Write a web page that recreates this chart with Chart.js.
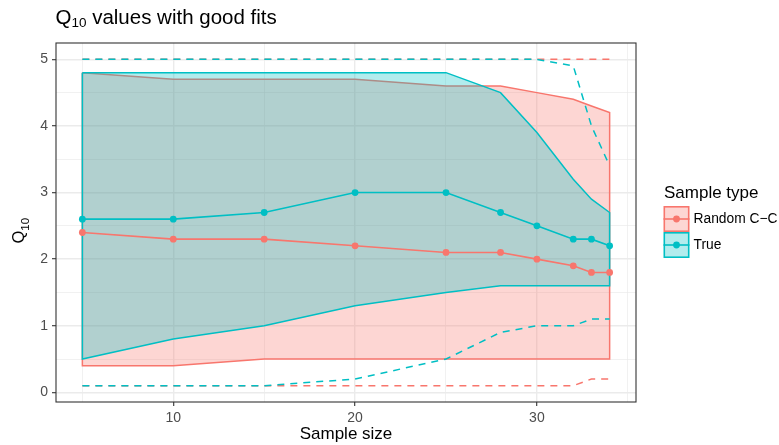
<!DOCTYPE html>
<html>
<head>
<meta charset="utf-8">
<script src="https://cdn.jsdelivr.net/npm/chart.js@4.4.1/dist/chart.umd.min.js"></script>
<style>
  html, body { margin: 0; padding: 0; background: #ffffff; }
</style>
</head>
<body>
<canvas id="q10Chart" width="779" height="445"></canvas>
<script>
// sample sizes along the x axis
const sampleSizes = [5, 10, 15, 20, 25, 28, 30, 32, 33, 34];

// Random C-C
const randomMedian = [2.4, 2.3, 2.3, 2.2, 2.1, 2.1, 2.0, 1.9, 1.8, 1.8];
const randomLower  = [0.4, 0.4, 0.5, 0.5, 0.5, 0.5, 0.5, 0.5, 0.5, 0.5];
const randomUpper  = [4.8, 4.7, 4.7, 4.7, 4.6, 4.6, 4.5, 4.4, 4.3, 4.2];
const randomMin    = [0.1, 0.1, 0.1, 0.1, 0.1, 0.1, 0.1, 0.1, 0.2, 0.2];
const randomMax    = [5.0, 5.0, 5.0, 5.0, 5.0, 5.0, 5.0, 5.0, 5.0, 5.0];

// True
const trueMedian = [2.6, 2.6, 2.7, 3.0, 3.0, 2.7, 2.5, 2.3, 2.3, 2.2];
const trueLower  = [0.5, 0.8, 1.0, 1.3, 1.5, 1.6, 1.6, 1.6, 1.6, 1.6];
const trueUpper  = [4.8, 4.8, 4.8, 4.8, 4.8, 4.5, 3.9, 3.2, 2.9, 2.7];
const trueMin    = [0.1, 0.1, 0.1, 0.2, 0.5, 0.9, 1.0, 1.0, 1.1, 1.1];
const trueMax    = [5.0, 5.0, 5.0, 5.0, 5.0, 5.0, 5.0, 4.9, 4.0, 3.4];

const seriesNames = ['Random C\u2212C', 'True'];
const seriesColors = ['#F8766D', '#00BFC4'];
const seriesFills = ['rgba(248,118,109,0.3)', 'rgba(0,191,196,0.3)'];

// axis ticks
const xMajorTicks = [10, 20, 30];
const xMinorTicks = [5, 15, 25, 35];
const yMajorTicks = [0, 1, 2, 3, 4, 5];
const yMinorTicks = [0.5, 1.5, 2.5, 3.5, 4.5];

const FONT = "'Liberation Sans', Arial, Helvetica, sans-serif";

function points(ys) {
    return sampleSizes.map((x, i) => ({ x: x, y: ys[i] }));
}

// upper edge left to right, lower edge back, closed
function ribbon(lower, upper) {
    const pts = points(upper).concat(points(lower).reverse());
    pts.push(pts[0]);
    return pts;
}

function ribbonSet(lower, upper, k, order) {
    return {
        data: ribbon(lower, upper),
        borderColor: seriesColors[k],
        backgroundColor: seriesFills[k],
        borderWidth: 1.5,
        fill: 'shape',
        pointRadius: 0,
        order: order
    };
}

function dashedSet(ys, k, order) {
    return {
        data: points(ys),
        borderColor: seriesColors[k],
        borderWidth: 1.5,
        borderDash: [7, 6],
        fill: false,
        pointRadius: 0,
        order: order
    };
}

function medianSet(ys, k, order) {
    return {
        data: points(ys),
        borderColor: seriesColors[k],
        backgroundColor: seriesColors[k],
        borderWidth: 1.6,
        fill: false,
        pointRadius: 3.4,
        pointBorderWidth: 0,
        pointBackgroundColor: seriesColors[k],
        order: order
    };
}

function byValue(list) {
    return list.slice().sort((a, b) => a - b).map(v => ({ value: v }));
}

// draws "Q" with a subscript "10", then the rest
function subscriptText(ctx, x, y, size, subSize, subDrop, rest) {
    ctx.font = size + 'px ' + FONT;
    ctx.fillText('Q', x, y);
    let w = ctx.measureText('Q').width;
    ctx.font = subSize + 'px ' + FONT;
    ctx.fillText('10', x + w, y + subDrop);
    w += ctx.measureText('10').width;
    if (rest) {
        ctx.font = size + 'px ' + FONT;
        ctx.fillText(rest, x + w, y);
    }
}

const panelAndLegend = {
    id: 'panelAndLegend',
    afterDatasetsDraw(chart) {
        const { ctx, chartArea: a } = chart;
        ctx.save();
        ctx.strokeStyle = '#333333';
        ctx.lineWidth = 1.1;
        ctx.strokeRect(a.left, a.top, a.right - a.left, a.bottom - a.top);
        ctx.restore();
    },
    afterDraw(chart) {
        const { ctx, chartArea: a } = chart;
        ctx.save();
        ctx.fillStyle = '#000000';
        ctx.textAlign = 'left';
        ctx.textBaseline = 'alphabetic';

        // plot title
        subscriptText(ctx, a.left - 0.5, 23.5, 20.5, 13.5, 3, ' values with good fits');

        // y axis title, rotated
        ctx.save();
        ctx.translate(23.5, 243.5);
        ctx.rotate(-Math.PI / 2);
        subscriptText(ctx, 0, 0, 16.5, 11.5, 5, '');
        ctx.restore();

        // legend
        const left = a.right + 27.5;
        const key = 26;
        const keyTop = 206;
        ctx.textBaseline = 'middle';
        ctx.font = '17px ' + FONT;
        ctx.fillText('Sample type', left + 0.5, 193);
        ctx.font = '13.8px ' + FONT;
        seriesNames.forEach((name, k) => {
            const top = keyTop + k * key;
            const cy = top + key / 2;
            ctx.fillStyle = seriesFills[k];
            ctx.fillRect(left + 0.8, top + 0.8, key - 1.6, key - 1.6);
            ctx.strokeStyle = seriesColors[k];
            ctx.lineWidth = 1.6;
            ctx.strokeRect(left + 0.8, top + 0.8, key - 1.6, key - 1.6);
            ctx.beginPath();
            ctx.moveTo(left, cy);
            ctx.lineTo(left + key, cy);
            ctx.stroke();
            ctx.beginPath();
            ctx.fillStyle = seriesColors[k];
            ctx.arc(left + key / 2, cy, 3.4, 0, Math.PI * 2);
            ctx.fill();
            ctx.fillStyle = '#000000';
            ctx.fillText(name, left + key + 4, cy + 0.5);
        });
        ctx.restore();
    }
};

const ctx = document.getElementById('q10Chart').getContext('2d');

new Chart(ctx, {
    type: 'line',
    data: {
        datasets: [
            ribbonSet(randomLower, randomUpper, 0, 10),
            ribbonSet(trueLower, trueUpper, 1, 9),
            dashedSet(randomMax, 0, 8),
            dashedSet(randomMin, 0, 8),
            dashedSet(trueMax, 1, 7),
            dashedSet(trueMin, 1, 7),
            medianSet(randomMedian, 0, 6),
            medianSet(trueMedian, 1, 5)
        ]
    },
    options: {
        responsive: false,
        animation: false,
        devicePixelRatio: 1,
        layout: { padding: { left: 0, right: 143, top: 43, bottom: 0 } },
        elements: { line: { tension: 0 } },
        plugins: {
            legend: { display: false },
            tooltip: { enabled: false },
            title: { display: false }
        },
        scales: {
            x: {
                type: 'linear',
                min: 3.55,
                max: 35.45,
                afterBuildTicks: axis => { axis.ticks = byValue(xMajorTicks.concat(xMinorTicks)); },
                afterFit: axis => { axis.height = 43; },
                border: { display: false },
                grid: {
                    color: '#EBEBEB',
                    lineWidth: c => xMajorTicks.includes(c.tick.value) ? 1.4 : 0.7,
                    tickLength: 4,
                    tickWidth: 1.1,
                    tickColor: c => xMajorTicks.includes(c.tick.value) ? '#333333' : 'rgba(0,0,0,0)'
                },
                ticks: {
                    color: '#4D4D4D',
                    padding: 3.5,
                    maxRotation: 0,
                    autoSkip: false,
                    font: { family: FONT, size: 14 },
                    callback: v => xMajorTicks.includes(v) ? String(v) : ''
                },
                title: {
                    display: true,
                    text: 'Sample size',
                    color: '#000000',
                    font: { family: FONT, size: 17, lineHeight: 1.2 },
                    padding: { top: 0, bottom: 0 }
                }
            },
            y: {
                type: 'linear',
                min: -0.145,
                max: 5.245,
                afterBuildTicks: axis => { axis.ticks = byValue(yMajorTicks.concat(yMinorTicks)); },
                afterFit: axis => { axis.width = 56; },
                border: { display: false },
                grid: {
                    color: '#EBEBEB',
                    lineWidth: c => yMajorTicks.includes(c.tick.value) ? 1.4 : 0.7,
                    tickLength: 4,
                    tickWidth: 1.1,
                    tickColor: c => yMajorTicks.includes(c.tick.value) ? '#333333' : 'rgba(0,0,0,0)'
                },
                ticks: {
                    color: '#4D4D4D',
                    padding: 4,
                    autoSkip: false,
                    font: { family: FONT, size: 14 },
                    callback: v => yMajorTicks.includes(v) ? String(v) : ''
                },
                title: { display: false }
            }
        }
    },
    plugins: [panelAndLegend]
});
</script>
</body>
</html>
